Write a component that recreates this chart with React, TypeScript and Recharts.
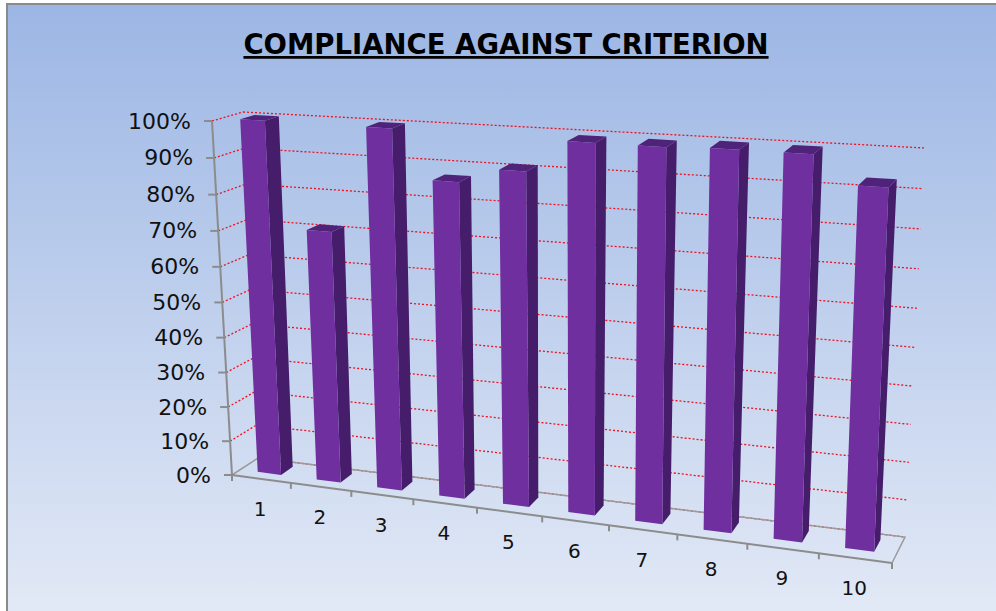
import React from "react";
import { BarChart, Bar, XAxis, YAxis, CartesianGrid } from "recharts";

const categories = ["1", "2", "3", "4", "5", "6", "7", "8", "9", "10"];
const compliance = [100, 71, 100, 87, 91, 99.5, 99.5, 100, 100, 93];
const yTicks = [0, 10, 20, 30, 40, 50, 60, 70, 80, 90, 100];
const titleText = "COMPLIANCE AGAINST CRITERION";

const data = categories.map((c, i) => ({ name: c, value: compliance[i] }));

const PX = 100, PY = 100, PW = 800, PH = 400;
type Pt = [number, number];
const F00: Pt = [232, 475], F10: Pt = [892, 563], F01: Pt = [212, 121], F11: Pt = [907, 166];
const B00: Pt = [258, 458], B10: Pt = [905, 537], B01: Pt = [243, 112], B11: Pt = [925, 148];

const warpU = (u: number) => 0.88 * u + 0.12 * u * u;
const warpV = (v: number) => 0.95 * v + 0.05 * v * v;
const mix = (a: Pt, b: Pt, t: number): Pt => [a[0] + (b[0] - a[0]) * t, a[1] + (b[1] - a[1]) * t];
const project = (u: number, v: number, d: number): Pt => {
  const uu = warpU(u), vv = warpV(v);
  const front = mix(mix(F00, F10, uu), mix(F01, F11, uu), vv);
  const back = mix(mix(B00, B10, uu), mix(B01, B11, uu), vv);
  return mix(front, back, d);
};
const toU = (x: number) => (x - PX) / PW;
const toV = (y: number) => (PY + PH - y) / PH;
const path = (pts: Pt[]) => pts.map((p) => `${p[0].toFixed(1)},${p[1].toFixed(1)}`).join(" ");

const BAR_FRONT = 0.32, BAR_BACK = 0.78;

const Bar3D = (props: any) => {
  const { x, y, width, height } = props;
  const u0 = toU(x), u1 = toU(x + width), v1 = toV(y), v0 = toV(y + height);
  const a = project(u0, v0, BAR_FRONT), b = project(u1, v0, BAR_FRONT), c = project(u1, v1, BAR_FRONT), e = project(u0, v1, BAR_FRONT);
  const b2 = project(u1, v0, BAR_BACK), c2 = project(u1, v1, BAR_BACK), e2 = project(u0, v1, BAR_BACK);
  return (
    <g>
      <polygon points={path([b, b2, c2, c])} fill="#451d6a" />
      <polygon points={path([e, c, c2, e2])} fill="#4f2379" />
      <polygon points={path([a, b, c, e])} fill="#6f2f9f" />
    </g>
  );
};

const GridLine = (props: any) => {
  const v = toV(props.y1);
  const isFloor = Math.abs(v) < 0.001;
  const p0 = project(0, v, 0), p1 = project(0, v, 1), p2 = project(1, v, 1);
  const st = { stroke: "#f01020", strokeWidth: 1.3, strokeDasharray: "2 2", fill: "none" };
  return (
    <g>
      {isFloor ? null : <line x1={p0[0]} y1={p0[1]} x2={p1[0]} y2={p1[1]} {...st} />}
      <line x1={p1[0]} y1={p1[1]} x2={p2[0]} y2={p2[1]} {...st} />
    </g>
  );
};

const YTick = (props: any) => {
  const { y, payload } = props;
  const v = toV(y);
  const p = project(0, v, 0);
  return (
    <g>
      <line x1={p[0] - 8} y1={p[1]} x2={p[0]} y2={p[1]} stroke="#8c8c8c" strokeWidth={2} />
      <text x={p[0] - 21} y={p[1] + 7.5} textAnchor="end" fontFamily="DejaVu Sans" fontSize={22} fill="#111">{`${payload.value}%`}</text>
    </g>
  );
};

const XTick = (props: any) => {
  const { x, payload, index } = props;
  const u = toU(x);
  const half = 0.05;
  const p = project(u, 0, 0);
  const t0 = project(u - half, 0, 0);
  const t1 = project(u + half, 0, 0);
  return (
    <g>
      {index === 0 ? <line x1={t0[0]} y1={t0[1]} x2={t0[0]} y2={t0[1] + 6} stroke="#8c8c8c" strokeWidth={2} /> : null}
      <line x1={t1[0]} y1={t1[1]} x2={t1[0]} y2={t1[1] + 6} stroke="#8c8c8c" strokeWidth={2} />
      <text x={p[0] - 1} y={p[1] + 37} textAnchor="middle" fontFamily="DejaVu Sans" fontSize={20} fill="#111">{payload.value}</text>
    </g>
  );
};

const Frame = () => {
  const fl = project(0, 0, 0), fr = project(1, 0, 0), br = project(1, 0, 1), bl = project(0, 0, 1), tl = project(0, 1, 0);
  return (
    <g>
      <polyline points={path([bl, br, fr])} fill="none" stroke="#9a9a9a" strokeWidth={1.5} />
      <line x1={bl[0]} y1={bl[1]} x2={fl[0]} y2={fl[1]} stroke="#9a9a9a" strokeWidth={1.5} />
      <line x1={fl[0]} y1={fl[1]} x2={fr[0]} y2={fr[1]} stroke="#8c8c8c" strokeWidth={2} />
      <line x1={fl[0]} y1={fl[1]} x2={tl[0]} y2={tl[1]} stroke="#8c8c8c" strokeWidth={2} />
      <text x={506} y={54} textAnchor="middle" fontFamily="DejaVu Sans" fontWeight={700} fontSize={27.5} fill="#000" textDecoration="underline">{titleText}</text>
    </g>
  );
};

export default function App() {
  return (
    <div style={{ position: "absolute", left: 0, top: 0, width: 996, height: 611, overflow: "hidden", background: "#fff" }}>
      <div style={{ position: "absolute", left: 6, top: 3, width: 990, height: 608, boxSizing: "border-box", borderLeft: "2px solid #8a8a8a", borderTop: "2px solid #8a8a8a", background: "linear-gradient(#9cb6e4, #e2e9f6)" }} />
      <div style={{ position: "absolute", left: 0, top: 0 }}>
        <BarChart width={996} height={611} data={data} margin={{ left: PX - 1, top: PY, right: 996 - PX - PW, bottom: 611 - PY - PH - 1 }} barSize={32} style={{ background: "transparent" }}>
          <CartesianGrid vertical={false} horizontal={GridLine as any} />
          <Frame />
          <XAxis dataKey="name" height={1} axisLine={false} tickLine={false} tick={XTick as any} interval={0} />
          <YAxis width={1} domain={[0, 100]} ticks={yTicks} axisLine={false} tickLine={false} tick={YTick as any} interval={0} />
          <Bar dataKey="value" shape={Bar3D as any} isAnimationActive={false} />
        </BarChart>
      </div>
    </div>
  );
}
